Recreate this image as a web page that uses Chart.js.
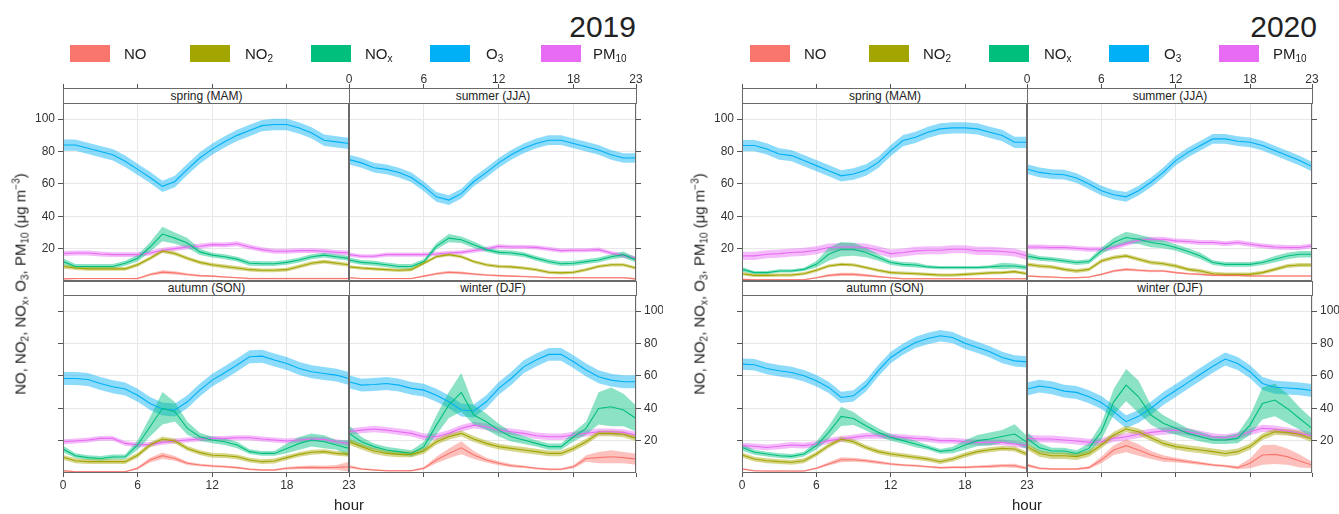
<!DOCTYPE html>
<html>
<head>
<meta charset="utf-8">
<script src="https://cdn.jsdelivr.net/npm/chart.js@4.4.0/dist/chart.umd.min.js"></script>
<style>
  html, body { margin: 0; padding: 0; background: #fff; overflow: hidden; }
  body { font-family: "Liberation Sans", Arial, sans-serif; color: #222; }
  #wrap { position: relative; width: 1339px; height: 514px; overflow: hidden; }
  canvas { position: absolute; }
  .strip { position: absolute; box-sizing: border-box; border: 1px solid #6a6a6a; background: #fff;
           font-size: 12px; text-align: center; color: #222; z-index: 2; }
  .key { position: absolute; width: 40px; height: 17px; }
  .keytxt { position: absolute; font-size: 15px; line-height: 17px; color: #222; }
  .keytxt sub { font-size: 10px; vertical-align: -3px; line-height: 0; }
  .year { position: absolute; font-size: 30px; line-height: 30px; color: #222; text-align: right; width: 120px; }
  .ytitle { position: absolute; white-space: nowrap; font-size: 15px; color: #222;
            transform: translate(-50%, -50%) rotate(-90deg); }
  .ytitle sub { font-size: 10px; vertical-align: -3px; line-height: 0; }
  .ytitle sup { font-size: 10px; vertical-align: 6px; line-height: 0; }
  .xtitle { position: absolute; font-size: 15px; color: #222; transform: translateX(-50%); }
</style>
</head>
<body>
<div id="wrap"></div>
<script>
// Hours and axis ticks
const hours = [0, 1, 2, 3, 4, 5, 6, 7, 8, 9, 10, 11, 12, 13, 14, 15, 16, 17, 18, 19, 20, 21, 22, 23];
const xTicks = [0, 6, 12, 18, 23];
const yTicks = [20, 40, 60, 80, 100];
const seasonLabels = ['spring (MAM)', 'summer (JJA)', 'autumn (SON)', 'winter (DJF)'];
const keyLabels = ['NO', 'NO<sub>2</sub>', 'NO<sub>x</sub>', 'O<sub>3</sub>', 'PM<sub>10</sub>'];

// 2019 hourly means
const noSpring19 = [1.3, 1.5, 1.5, 1.5, 1.5, 1.5, 1.5, 4, 5.5, 5, 4, 3.3, 3, 2.5, 2, 1.5, 1.5, 1.5, 1.5, 1.5, 1.5, 1.5, 1.5, 1.5];
const no2Spring19 = [9, 8, 7.5, 7.5, 7.5, 7.5, 10, 14, 18.5, 17, 14, 11.5, 10, 9, 8, 7, 6.6, 6.6, 7, 9, 11, 12, 11, 10];
const noxSpring19 = [12, 9, 9, 9, 9, 11, 14, 21, 29, 26.5, 23.5, 18, 16, 15, 13.5, 11, 10.7, 10.7, 11.5, 13, 15, 16, 15, 14];
const o3Spring19 = [84, 84, 82, 80, 78, 74, 69, 64, 58.5, 61.5, 69, 76, 81.5, 86, 90, 93, 96, 96.7, 96.7, 94.5, 91.5, 87, 86, 85];
const pmSpring19 = [17, 17.3, 17.3, 16.7, 16.3, 16.3, 16.3, 17.3, 19, 20, 21, 21.5, 22.5, 22.3, 23, 21, 19.4, 18.4, 18.4, 18.8, 18.8, 18.4, 17.7, 17.3];

const noSummer19 = [2, 1.5, 1.5, 1.5, 1.5, 1.5, 3, 4.5, 5.4, 5, 4.3, 3.7, 3.3, 3, 2.8, 2.5, 2, 2, 2, 2, 2, 2, 2, 1.3];
const no2Summer19 = [8.7, 8, 7.5, 7, 6.6, 7, 11, 15, 16.3, 15, 12, 10, 9, 8.7, 8, 7, 5.4, 5, 5.4, 7, 9, 10, 10, 8];
const noxSummer19 = [13, 11.5, 11, 10, 9, 9, 12, 21.4, 26.5, 25.5, 22.4, 19.4, 17.7, 17.3, 16.3, 14, 12, 10.7, 11, 12, 13, 15, 16.3, 13];
const o3Summer19 = [75, 73, 70, 69, 67, 64, 58.5, 52, 50, 54, 61.5, 67, 73, 78, 82, 85, 87, 87, 85, 83, 81, 78, 76, 76];
const pmSummer19 = [16.3, 15.3, 15.3, 16.3, 16.3, 16.3, 16.3, 16.7, 17.3, 17.7, 18.8, 19.8, 21.4, 21, 21, 20.8, 19.8, 18.8, 19, 19, 19.4, 17.3, 15.7, 14];

const noAutumn19 = [1.4, 0.8, 0.8, 0.8, 0.8, 0.8, 2.9, 8, 10.7, 9, 6, 4.9, 4.3, 3.9, 3.3, 2.3, 1.9, 1.9, 2.9, 3.3, 3.5, 3.3, 3.5, 3.9];
const no2Autumn19 = [9.7, 7.6, 7, 7, 7, 7, 11, 17.3, 21, 19.8, 15.2, 12.6, 11, 10.7, 10, 8, 7, 7.4, 9.5, 11.5, 12.8, 13.2, 12.1, 11.5];
const noxAutumn19 = [14.8, 10.7, 9.5, 9, 9.9, 10, 17.3, 28.6, 40, 37.9, 27.6, 22.4, 20.4, 19.3, 17.3, 13.2, 12.1, 12.1, 15.2, 18.3, 20.4, 19.3, 17.3, 15.2];
const o3Autumn19 = [58.4, 58.4, 57.8, 55.3, 53.3, 51.9, 48, 43, 39.5, 38.9, 44, 51.2, 57.4, 62, 66.7, 71.8, 72.2, 69.8, 67.7, 64.6, 62.6, 61.5, 60.5, 58.4];
const pmAutumn19 = [19.3, 19.8, 20.4, 21.4, 21.4, 18.3, 17.3, 17.7, 18.9, 19.8, 20.4, 21, 21.4, 21.4, 21.8, 21.8, 21, 20.4, 19.8, 20.4, 21, 20.8, 19.3, 18.3];

const noWinter19 = [3.9, 2.5, 1.9, 1.4, 1.4, 1.4, 2.9, 8, 12.1, 15.6, 11.1, 8, 6, 4.5, 3.9, 2.9, 2.3, 2.3, 3.9, 9, 9.5, 10, 9.5, 8.6];
const no2Winter19 = [19.3, 16.3, 13.6, 12.1, 11.5, 11.5, 13.6, 19.3, 22.4, 24.5, 21, 18.3, 16.3, 15.2, 14.2, 13.2, 12.1, 12.1, 15.2, 19.3, 24.5, 24.5, 23.9, 21.4];
const noxWinter19 = [24.5, 19.3, 16.3, 14.2, 13.2, 12.1, 16.3, 29.6, 42, 49.8, 35.8, 31.7, 26.5, 22.4, 20.4, 18.3, 16.3, 16.3, 22.4, 27.6, 39.9, 40.9, 38.9, 33.7];
const o3Winter19 = [56.4, 54.3, 54.7, 55.3, 54.3, 52.3, 51.2, 48.1, 44, 38.9, 38.3, 44, 52.3, 58.4, 65.6, 69.8, 73.3, 73.3, 68.7, 63.6, 59.5, 57.4, 56.4, 56.4];
const pmWinter19 = [25.5, 26.5, 27.2, 26.5, 25.5, 24.5, 22.4, 22.4, 24.5, 27.6, 29.6, 28.6, 26.5, 25.5, 24.5, 23, 22.4, 22.4, 23.5, 24.5, 25.5, 25.5, 25.1, 23.5];

// 2020 hourly means
const noSpring20 = [1, 0.8, 0.8, 0.8, 0.8, 0.8, 2, 3.5, 4.1, 4.1, 3.5, 2.7, 2, 1.4, 1.4, 1.4, 1.4, 1.4, 1.4, 1.4, 1.4, 1.4, 1.4, 1.4];
const no2Spring20 = [4.5, 3.5, 3.5, 3.7, 3.7, 4.5, 6.6, 9.3, 10.3, 9.9, 8.3, 6.6, 5.2, 4.8, 4.5, 4.1, 3.7, 3.7, 4.1, 4.5, 5, 5.2, 5.8, 4.5];
const noxSpring20 = [7.2, 5.2, 5.2, 6.2, 6.2, 7.2, 10.3, 16.5, 19.6, 19.6, 17.6, 14.5, 11.4, 10.3, 9.9, 8.7, 8.3, 8.3, 8.3, 8.3, 8.7, 9.3, 9.3, 8.3];
const o3Spring20 = [83.7, 83.7, 81.6, 78.5, 77.5, 74.4, 71.3, 68.2, 65, 66.1, 68.6, 73.3, 80.6, 86.8, 88.8, 91.9, 94, 94.6, 94.6, 94, 91.9, 89.9, 85.7, 85.7];
const pmSpring20 = [15.5, 15.5, 16.5, 16.9, 17.6, 18, 19, 20.7, 21, 21, 20.7, 19, 16.9, 17.6, 18.6, 19, 19, 19.6, 19.6, 18.6, 18.6, 18.2, 17.6, 15.5];

const noSummer20 = [3.1, 2.7, 2.5, 2, 2, 2.5, 4.1, 6.2, 7.2, 6.6, 6.2, 6.2, 5.2, 4.5, 4.1, 3.5, 3.5, 3.5, 3.1, 3.1, 3.1, 3.1, 3.1, 3.1];
const no2Summer20 = [10.3, 9.3, 8.7, 7.2, 6.2, 7.2, 12.4, 14.5, 15.5, 13.4, 11.4, 10.7, 9.3, 7.2, 6.2, 4.5, 4.1, 4.1, 4.1, 5.2, 7.2, 9.3, 9.9, 9.9];
const noxSummer20 = [15.5, 14, 13.4, 12.4, 11.4, 12, 18.6, 23.8, 26.9, 25.8, 23.8, 22.7, 20.7, 18.2, 15.5, 11.4, 10.3, 10.3, 10.3, 11.4, 13.4, 15.5, 16.5, 16.5];
const o3Summer20 = [69.2, 67.1, 66.1, 65.7, 63.6, 59.9, 55.8, 53.3, 52, 55.8, 61, 67.1, 74.4, 79.5, 83.7, 87.8, 87.8, 86.4, 85.7, 83.7, 80.6, 77.5, 74.4, 70.7];
const pmSummer20 = [21, 21, 20.7, 20.7, 20.2, 19.6, 19.6, 20.7, 23.1, 25.2, 25.8, 25.8, 24.8, 24.4, 23.8, 23.8, 23.1, 23.8, 22.7, 21.7, 21, 20.7, 20.7, 21.7];

const noAutumn20 = [2.5, 1.4, 1.2, 1.2, 1.2, 1.2, 2.9, 5.6, 8.2, 8.2, 7.6, 6.6, 5.6, 4.9, 4.5, 3.9, 3.3, 3.5, 3.5, 3.9, 4.1, 4.5, 4.5, 2.9];
const no2Autumn20 = [11.1, 8.6, 7.6, 7, 6.6, 7.6, 11.7, 16.9, 21, 19.3, 15.8, 13.2, 11.7, 10.7, 9.7, 8.6, 7, 8.6, 11.1, 13.2, 14.4, 15.2, 14.8, 11.7];
const noxAutumn20 = [15.8, 12.8, 11.7, 10.7, 10.3, 11.7, 16.9, 25.1, 35, 33.7, 29.2, 25.1, 22, 20, 17.9, 15.8, 13.4, 14.2, 17.3, 20, 21, 22.6, 24.1, 18.9];
const o3Autumn20 = [67.3, 66.9, 64.6, 63.2, 62.1, 60.1, 57, 52.9, 46.7, 47.7, 53.9, 63.2, 71.4, 76.5, 80.7, 83.1, 84.8, 83.7, 80.2, 77.6, 74.9, 71.4, 69.3, 68.7];
const pmAutumn20 = [16.9, 16.5, 15.8, 16.5, 17.3, 16.9, 17.9, 20, 21, 22, 23, 23, 22.6, 22, 21.4, 21, 20, 20, 19.3, 18.9, 18.9, 18.9, 17.9, 16.9];

const noWinter20 = [4.9, 2.9, 2.5, 2.5, 2.5, 3.3, 8, 14.2, 16.9, 14.2, 11.1, 9, 8, 7, 6, 4.9, 4.3, 3.3, 6, 11.1, 11.5, 10.1, 7.4, 4.9];
const no2Winter20 = [16.3, 12.1, 10.7, 10.7, 10.1, 12.1, 17.3, 23.5, 27.2, 25.5, 21.8, 18.3, 16.3, 15.2, 14.2, 13.2, 12.1, 13.2, 16.3, 22.4, 25.5, 25.1, 23.9, 21];
const noxWinter20 = [21.4, 15.6, 13.6, 13.6, 12.1, 15.2, 25.5, 44, 54.3, 47.1, 35.8, 30.7, 27.6, 24.5, 22.4, 20.4, 20.4, 21.4, 29.6, 43, 45.1, 39.9, 33.7, 27.6];
const o3Winter20 = [51.9, 53.7, 52.7, 50.6, 49.8, 47.1, 43.6, 37.9, 31.7, 35, 40, 46, 51, 56, 61, 66, 70.4, 67.7, 62.6, 55.3, 53, 52.5, 52, 51];
const pmWinter20 = [21.4, 21, 21, 20.4, 19.8, 18.9, 19.3, 21.4, 22.4, 23.9, 25.1, 25.9, 26.5, 25.5, 23.9, 22.4, 21.8, 23, 25.5, 27.6, 27.2, 25.9, 24.5, 23];

// Confidence band half-widths (NOx and NO vary by hour; others per season)
const noxBandSpring19 = [2, 1.5, 1.5, 1.5, 1.5, 1.5, 2, 3, 4.5, 3.5, 3, 2, 1.5, 1.5, 1.5, 1.5, 1.5, 1.5, 1.5, 1.5, 1.5, 1.5, 1.5, 1.5];
const noxBandSummer19 = [1.5, 1.5, 1.5, 1.5, 1.5, 1.5, 1.5, 2, 2.5, 2, 2, 1.5, 1.5, 1.5, 1.5, 1.5, 1.5, 1.5, 1.5, 1.5, 1.5, 1.5, 2, 1.5];
const noxBandAutumn19 = [2, 1.5, 1.5, 1.5, 1.5, 1.5, 3, 6, 10, 6, 4, 2.5, 2, 2, 2, 1.5, 1.5, 1.5, 3, 4, 4, 4, 3, 5];
const noxBandWinter19 = [5, 3, 2, 2, 2, 2, 3, 6, 8, 12, 6, 5, 4, 3, 2.5, 2, 2, 2, 3, 4, 10, 12, 10, 8];
const noxBandSpring20 = [1.5, 1, 1, 1, 1, 1, 2, 4, 4.5, 4, 3, 2, 1.5, 1.5, 1.5, 1, 1, 1, 1, 1, 1, 2, 1.5, 1.5];
const noxBandSummer20 = [2, 1.5, 1.5, 1.5, 1.5, 1.5, 2, 3, 3.5, 3, 3, 2.5, 2, 2, 2, 1.5, 1.5, 1.5, 1.5, 1.5, 2, 2, 2, 2];
const noxBandAutumn20 = [2, 1.5, 1.5, 1.5, 1.5, 1.5, 2.5, 4, 6, 4, 3, 2.5, 2, 2, 2, 1.5, 1.5, 2, 3, 3.5, 4, 4, 6, 4];
const noxBandWinter20 = [4, 3, 2, 2, 2, 3, 5, 8, 10, 10, 6, 5, 4, 3, 3, 2.5, 2.5, 3, 6, 10, 10, 9, 7, 6];

const noBandSpring19 = [0.4, 0.4, 0.4, 0.4, 0.4, 0.4, 0.5, 0.8, 1.2, 1, 0.8, 0.6, 0.5, 0.5, 0.5, 0.5, 0.5, 0.5, 0.5, 0.5, 0.5, 0.5, 0.5, 0.5];
const noBandSummer19 = [0.4, 0.4, 0.4, 0.4, 0.4, 0.4, 0.6, 0.8, 0.9, 0.8, 0.7, 0.6, 0.5, 0.5, 0.5, 0.5, 0.5, 0.5, 0.5, 0.5, 0.5, 0.5, 0.5, 0.5];
const noBandAutumn19 = [0.6, 0.4, 0.4, 0.4, 0.4, 0.4, 0.8, 1.5, 2, 1.5, 1, 0.8, 0.8, 0.7, 0.7, 0.6, 0.6, 0.6, 0.8, 1, 1.2, 1.2, 1.5, 3];
const noBandWinter19 = [1, 0.6, 0.5, 0.4, 0.4, 0.4, 0.8, 2, 3, 4, 2.5, 1.5, 1.2, 1, 0.8, 0.7, 0.6, 0.6, 1, 2, 3.5, 4, 3.5, 3.5];
const noBandSpring20 = [0.4, 0.4, 0.4, 0.4, 0.4, 0.4, 0.5, 0.8, 1, 1, 0.8, 0.6, 0.5, 0.5, 0.5, 0.5, 0.5, 0.5, 0.5, 0.5, 0.5, 0.5, 0.5, 0.5];
const noBandSummer20 = [0.5, 0.5, 0.5, 0.5, 0.5, 0.5, 0.6, 0.8, 0.9, 0.8, 0.8, 0.7, 0.6, 0.6, 0.5, 0.5, 0.5, 0.5, 0.5, 0.5, 0.5, 0.5, 0.5, 0.5];
const noBandAutumn20 = [0.6, 0.4, 0.4, 0.4, 0.4, 0.4, 0.6, 1, 1.5, 1.3, 1.1, 1, 0.8, 0.7, 0.7, 0.6, 0.6, 0.6, 0.7, 0.8, 1, 1, 1.2, 0.8];
const noBandWinter20 = [1, 0.7, 0.6, 0.6, 0.6, 0.8, 2, 3, 4, 3.5, 2.5, 2, 1.5, 1.2, 1, 0.8, 0.8, 1, 3, 6, 6, 5, 4, 2];

// per season: spring, summer, autumn, winter
const o3Band19 = [3.5, 3, 4, 4];
const no2Band19 = [1.2, 1, 1.5, 1.8];
const pmBand19 = [1.5, 1.3, 1.5, 2];
const o3Band20 = [3.5, 3, 3.5, 4];
const no2Band20 = [1, 1.2, 1.5, 2];
const pmBand20 = [2.5, 1.5, 1.8, 2.2];

// Colours: NO, NO2, NOx, O3, PM10
const lineColors = ['#F8766D', '#A3A500', '#00BF7D', '#00B0F6', '#E76BF3'];
const bandColors = ['rgba(248,118,109,0.45)', 'rgba(163,165,0,0.45)', 'rgba(0,191,125,0.45)',
                    'rgba(0,176,246,0.45)', 'rgba(231,107,243,0.45)'];

function facet(means, bands) { return { means, bands }; }

const panels = [
  {
    year: '2019', left: 63, mid: 349, right: 636, yearRight: 636, titleX: 20,
    keyX: [70, 190, 311, 430, 541], keyTextX: [124, 245, 365, 486, 593],
    facets: [
      facet([noSpring19, no2Spring19, noxSpring19, o3Spring19, pmSpring19], [noBandSpring19, no2Band19[0], noxBandSpring19, o3Band19[0], pmBand19[0]]),
      facet([noSummer19, no2Summer19, noxSummer19, o3Summer19, pmSummer19], [noBandSummer19, no2Band19[1], noxBandSummer19, o3Band19[1], pmBand19[1]]),
      facet([noAutumn19, no2Autumn19, noxAutumn19, o3Autumn19, pmAutumn19], [noBandAutumn19, no2Band19[2], noxBandAutumn19, o3Band19[2], pmBand19[2]]),
      facet([noWinter19, no2Winter19, noxWinter19, o3Winter19, pmWinter19], [noBandWinter19, no2Band19[3], noxBandWinter19, o3Band19[3], pmBand19[3]])
    ]
  },
  {
    year: '2020', left: 742, mid: 1027, right: 1312, yearRight: 1317, titleX: 699,
    keyX: [750, 869, 989, 1109, 1219], keyTextX: [804, 923, 1044, 1164, 1273],
    facets: [
      facet([noSpring20, no2Spring20, noxSpring20, o3Spring20, pmSpring20], [noBandSpring20, no2Band20[0], noxBandSpring20, o3Band20[0], pmBand20[0]]),
      facet([noSummer20, no2Summer20, noxSummer20, o3Summer20, pmSummer20], [noBandSummer20, no2Band20[1], noxBandSummer20, o3Band20[1], pmBand20[1]]),
      facet([noAutumn20, no2Autumn20, noxAutumn20, o3Autumn20, pmAutumn20], [noBandAutumn20, no2Band20[2], noxBandAutumn20, o3Band20[2], pmBand20[2]]),
      facet([noWinter20, no2Winter20, noxWinter20, o3Winter20, pmWinter20], [noBandWinter20, no2Band20[3], noxBandWinter20, o3Band20[3], pmBand20[3]])
    ]
  }
];

const rows = [
  { stripTop: 88, top: 103, bottom: 281 },
  { stripTop: 281, top: 295, bottom: 473 }
];

Chart.defaults.font.family = '"Liberation Sans", Arial, sans-serif';
Chart.defaults.color = '#333';

const framePlugin = {
  id: 'frame',
  afterDraw(chart) {
    const a = chart.chartArea, c = chart.ctx;
    c.save();
    c.strokeStyle = '#6a6a6a';
    c.lineWidth = 1;
    c.strokeRect(a.left + 0.5, a.top + 0.5, a.right - a.left - 1, a.bottom - a.top - 1);
    c.restore();
  }
};

const wrap = document.getElementById('wrap');

function addEl(cls, html, style) {
  const d = document.createElement('div');
  d.className = cls;
  d.innerHTML = html;
  Object.assign(d.style, style);
  wrap.appendChild(d);
  return d;
}

function noPad(a) {
  a.paddingLeft = 0; a.paddingRight = 0; a.paddingTop = 0; a.paddingBottom = 0;
}

function makeFacet(p, idx) {
  const col = idx % 2, row = Math.floor(idx / 2);
  const r = rows[row];
  const f = p.facets[idx];
  const plotL = col === 0 ? p.left : p.mid;
  const plotR = col === 0 ? p.mid : p.right;
  const yAxisW = col === 0 ? 50 : 27;
  const spare = 15;  // room so the 0 / 23 labels at the shared edge are not clipped
  const canvasTop = row === 0 ? 60 : r.stripTop;
  const xAxisH = row === 0 ? r.stripTop - canvasTop : 40;
  const canvasLeft = col === 0 ? plotL - yAxisW : plotL - spare;
  const w = plotR - plotL + yAxisW + spare;
  const h = row === 0 ? r.bottom - canvasTop : r.bottom - r.stripTop + xAxisH;
  const perUnit = (r.bottom - r.top) / 110;
  const yMax = (r.bottom - r.stripTop) / perUnit;

  const showX = (row === 0 && col === 1) || (row === 1 && col === 0);
  const showY = (row === 0 && col === 0) || (row === 1 && col === 1);

  const cv = document.createElement('canvas');
  cv.width = w; cv.height = h;
  cv.style.left = canvasLeft + 'px';
  cv.style.top = canvasTop + 'px';
  cv.style.width = w + 'px';
  cv.style.height = h + 'px';
  wrap.appendChild(cv);

  const datasets = [];
  f.means.forEach((m, s) => {
    const b = f.bands[s];
    const half = i => Array.isArray(b) ? b[i] : b;
    datasets.push({ data: hours.map(x => ({ x, y: m[x] - half(x) })), borderWidth: 0, pointRadius: 0, fill: false, order: 2 });
    datasets.push({ data: hours.map(x => ({ x, y: m[x] + half(x) })), borderWidth: 0, pointRadius: 0, fill: '-1',
                    backgroundColor: bandColors[s], order: 2 });
  });
  f.means.forEach((m, s) => {
    datasets.push({ data: hours.map(x => ({ x, y: m[x] })), borderColor: lineColors[s], borderWidth: 1.1,
                    pointRadius: 0, fill: false, order: 1 });
  });

  new Chart(cv, {
    type: 'line',
    data: { datasets },
    options: {
      responsive: false,
      animation: false,
      devicePixelRatio: 1,
      layout: { padding: col === 0 ? { left: 0, right: spare, top: 0, bottom: 0 } : { left: spare, right: 0, top: 0, bottom: 0 } },
      elements: { line: { tension: 0 } },
      plugins: { legend: { display: false }, tooltip: { enabled: false } },
      scales: {
        x: {
          type: 'linear', position: row === 0 ? 'top' : 'bottom', min: 0, max: 23,
          afterBuildTicks: a => { a.ticks = xTicks.map(v => ({ value: v })); },
          afterFit: a => { a.height = xAxisH; noPad(a); },
          grid: { color: '#e8e8e8', tickColor: '#555', tickLength: 4 },
          border: { display: false },
          ticks: { display: showX, font: { size: 12 }, color: '#333', padding: row === 0 ? -3 : 1,
                   maxRotation: 0, autoSkip: false }
        },
        y: {
          type: 'linear', position: col === 0 ? 'left' : 'right', min: 0, max: yMax,
          afterBuildTicks: a => { a.ticks = yTicks.map(v => ({ value: v })); },
          afterFit: a => { a.width = yAxisW; noPad(a); },
          grid: { color: '#e8e8e8', tickColor: '#555', tickLength: 5 },
          border: { display: false },
          ticks: { display: showY, font: { size: 12 }, color: '#333', padding: 3 }
        }
      }
    },
    plugins: [framePlugin]
  });

  addEl('strip', seasonLabels[idx], {
    left: plotL + 'px', top: r.stripTop + 'px', width: (plotR - plotL + 1) + 'px',
    height: (r.top - r.stripTop + 1) + 'px', lineHeight: (r.top - r.stripTop - 1) + 'px'
  });
}

panels.forEach(p => {
  p.facets.forEach((f, i) => makeFacet(p, i));
  keyLabels.forEach((t, i) => {
    addEl('key', '', { left: p.keyX[i] + 'px', top: '45px', background: lineColors[i] });
    addEl('keytxt', t, { left: p.keyTextX[i] + 'px', top: '45px' });
  });
  addEl('year', p.year, { left: (p.yearRight - 120) + 'px', top: '12px' });
  addEl('ytitle', 'NO, NO<sub>2</sub>, NO<sub>x</sub>, O<sub>3</sub>, PM<sub>10</sub> (\u03bcg m<sup>\u22123</sup>)',
        { left: p.titleX + 'px', top: '284px' });
  addEl('xtitle', 'hour', { left: p.mid + 'px', top: '496px' });
});
</script>
</body>
</html>
